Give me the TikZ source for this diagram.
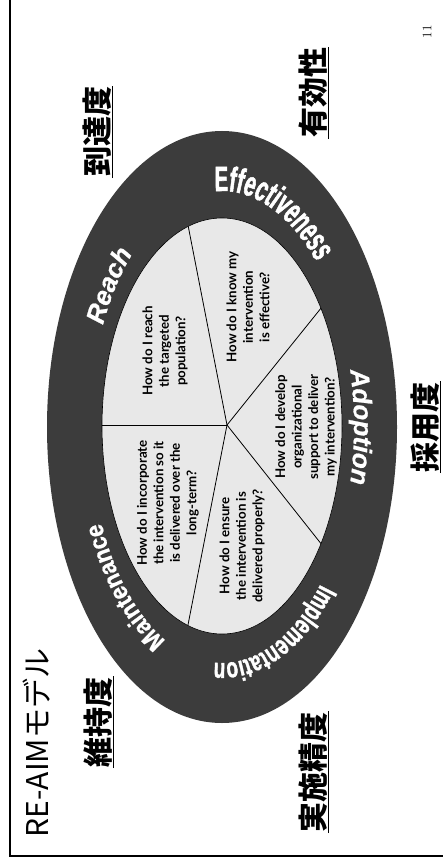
\documentclass[tikz,border=0pt]{standalone}
\usepackage{fontspec}
\usetikzlibrary{decorations.text,calc}
\newfontfamily\jpfont{Noto Sans CJK JP}
\newfontfamily\qfont{Lato}
\newfontfamily\condA[FakeStretch=0.58,FakeBold=1.5]{Liberation Sans Bold}
\newfontfamily\condB[FakeStretch=0.68,FakeBold=1.2]{Liberation Sans Bold}
\newfontfamily\condC[FakeStretch=0.9,FakeBold=0.8]{Liberation Sans Bold}
\newfontfamily\plainBI[FakeBold=0.8]{Liberation Sans Bold Italic}
\newcommand\fReach{\plainBI\fontsize{26}{26}\selectfont\color{white}}
\newcommand\fEff{\condA\fontsize{35}{35}\selectfont\color{white}}
\newcommand\fAdopt{\plainBI\fontsize{26}{26}\selectfont\color{white}}
\newcommand\fImpl{\condB\fontsize{28}{28}\selectfont\color{white}}
\newcommand\fMaint{\condC\fontsize{25}{25}\selectfont\color{white}}
\definecolor{ringgray}{HTML}{3C3C3C}
\definecolor{piegray}{HTML}{E8E8E8}
\newcommand\ringlabel[3]{%
  \path[shift={(222,-427)},decorate,decoration={text along path,text align=center,text={#3}}]
    (#1+#2:132pt and 236pt) arc[start angle=#1+#2,end angle=#1-#2,x radius=132pt,y radius=236pt];}
\tikzset{
  qtext/.style={rotate=90,align=center,inner sep=0pt,font=\qfont\bfseries\fontsize{13.3}{16.5}\selectfont},
  jplabel/.style={rotate=90,inner sep=1pt,font=\jpfont\bfseries\fontsize{30}{30}\selectfont},
  uline/.style={line width=1.2pt},
  pieline/.style={line width=0.8pt,black},
}
\begin{document}
\begin{tikzpicture}[x=1pt,y=1pt]
\useasboundingbox (0,0) rectangle (443,-861);
\fill[white] (0,0) rectangle (443,-861);
% frame
\coordinate (ftop) at (10,0);
\coordinate (fcorner) at (10,-856);
\coordinate (fright) at (443,-856);
\draw[line width=1.8pt] (ftop) -- (fcorner) -- (fright);
% ellipses
\fill[ringgray] (222,-427) ellipse[x radius=175pt,y radius=296pt];
\fill[piegray,draw=black,line width=0.6pt] (222,-426) ellipse[x radius=120pt,y radius=208pt];
% pie lines
\coordinate (P) at (227,-425);
\coordinate (e1) at (95,-425);
\coordinate (e2) at (187,-220);
\coordinate (e3) at (330,-297);
\coordinate (e4) at (330,-555);
\coordinate (e5) at (187,-630);
\begin{scope}
\clip (222,-426) ellipse[x radius=120pt,y radius=208pt];
\draw[pieline] (P) -- (e1);
\draw[pieline] (P) -- (e2);
\draw[pieline] (P) -- (e3);
\draw[pieline] (P) -- (e4);
\draw[pieline] (P) -- (e5);
\end{scope}
% questions
\node[qtext] (qR) at (165,-351) {How do I reach\\the targeted\\population?};
\node[qtext] (qE) at (248,-307) {How do I know my\\intervention\\is effective?};
\node[qtext] (qA) at (306,-427) {How do I develop\\organizational\\support to deliver\\my intervention?};
\node[qtext] (qI) at (242,-546) {How do I ensure\\the intervention is\\delivered properly?};
\node[qtext] (qM) at (168,-503) {How do I incorporate\\the intervention so it\\is delivered over the\\long-term?};
% ring labels
\ringlabel{141}{28}{|\fReach|Reach}
\ringlabel{71}{36}{|\fEff|Effectiveness}
\ringlabel{0}{36}{|\fAdopt|Adoption}
\ringlabel{-70}{38}{|\fImpl|Implementation}
\ringlabel{228}{36}{|\fMaint|Maintenance}
% Japanese labels
\node[jplabel] (jR) at (97,-132) {到達度};
\node[jplabel] (jE) at (313,-93) {有効性};
\node[jplabel] (jA) at (425,-427) {採用度};
\node[jplabel] (jM) at (98,-722) {維持度};
\node[jplabel] (jI) at (313,-772) {実施精度};
\foreach \n in {jR,jE,jA,jM,jI} \draw[uline] (\n.south west) -- (\n.south east);
% title and page number
\node[rotate=90,inner sep=0pt,font=\jpfont\fontsize{30}{30}\selectfont] (title) at (37,-743) {RE-AIMモデル};
\node[rotate=90,inner sep=0pt,font=\fontsize{13}{13}\selectfont] (pnum) at (427,-32) {11};
\end{tikzpicture}
\end{document}
